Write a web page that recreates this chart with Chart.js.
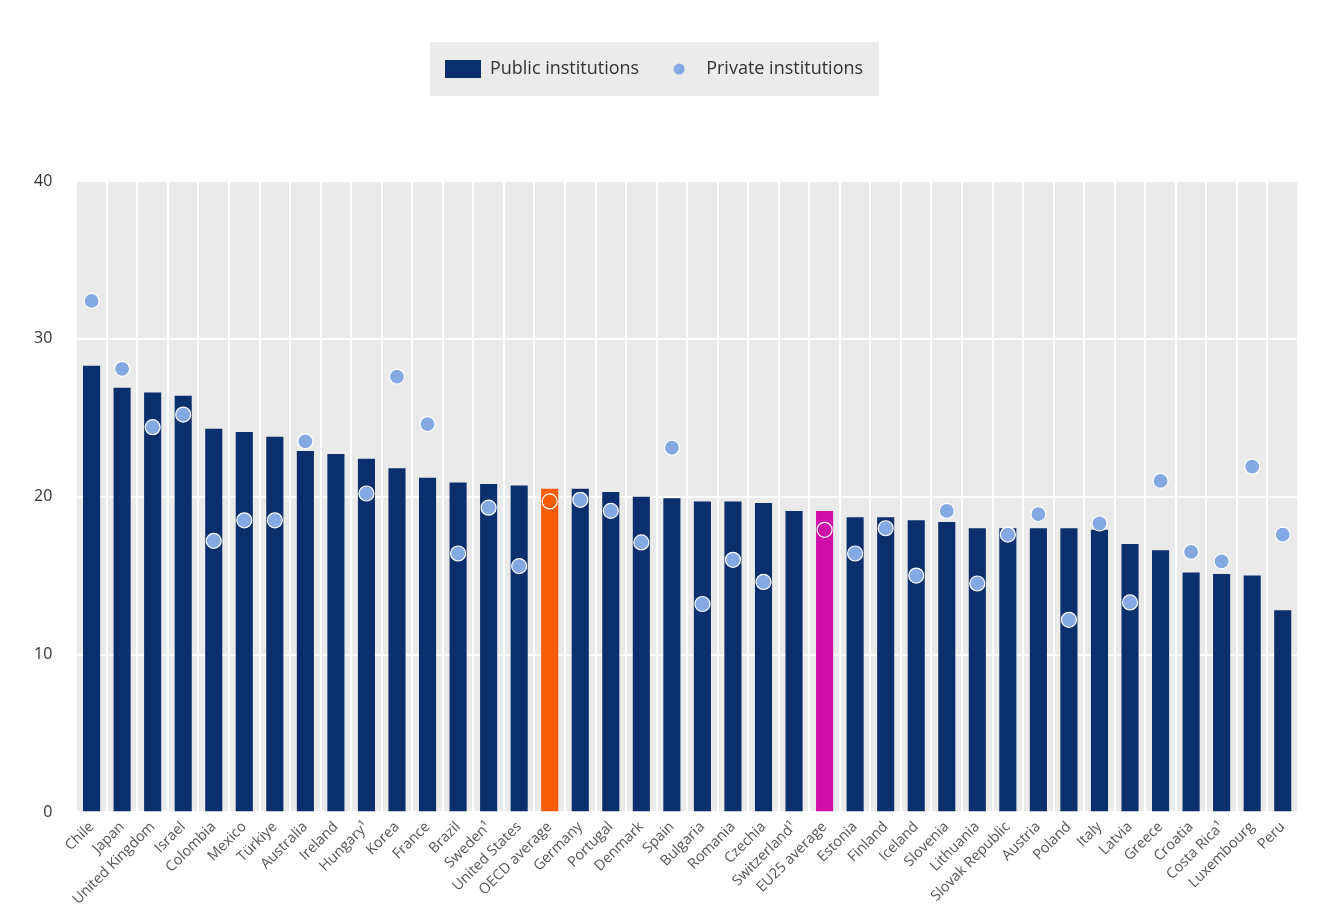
<!DOCTYPE html>
<html lang="en">
<head>
  <meta charset="UTF-8">
  <title>Public and private institutions</title>
  <style>
    html, body { margin: 0; padding: 0; background: #fff; }
    #wrap { width: 1320px; height: 923px; position: relative; }
  </style>
</head>
<body>
<div id="wrap"><canvas id="chart"></canvas></div>

<script src="https://cdn.jsdelivr.net/npm/chart.js"></script>
<script>
  // values
  const categories = [
    'Chile', 'Japan', 'United Kingdom', 'Israel', 'Colombia', 'Mexico', 'Türkiye', 'Australia',
    'Ireland', 'Hungary¹', 'Korea', 'France', 'Brazil', 'Sweden¹', 'United States', 'OECD average',
    'Germany', 'Portugal', 'Denmark', 'Spain', 'Bulgaria', 'Romania', 'Czechia', 'Switzerland¹',
    'EU25 average', 'Estonia', 'Finland', 'Iceland', 'Slovenia', 'Lithuania', 'Slovak Republic',
    'Austria', 'Poland', 'Italy', 'Latvia', 'Greece', 'Croatia', 'Costa Rica¹', 'Luxembourg', 'Peru'
  ];
  const publicValues = [
    28.3, 26.9, 26.6, 26.4, 24.3, 24.1, 23.8, 22.9,
    22.7, 22.4, 21.8, 21.2, 20.9, 20.8, 20.7, 20.5,
    20.5, 20.3, 20.0, 19.9, 19.7, 19.7, 19.6, 19.1,
    19.1, 18.7, 18.7, 18.5, 18.4, 18.0, 18.0,
    18.0, 18.0, 17.9, 17.0, 16.6, 15.2, 15.1, 15.0, 12.8
  ];
  const privateValues = [
    32.4, 28.1, 24.4, 25.2, 17.2, 18.5, 18.5, 23.5,
    null, 20.2, 27.6, 24.6, 16.4, 19.3, 15.6, 19.7,
    19.8, 19.1, 17.1, 23.1, 13.2, 16.0, 14.6, null,
    17.9, 16.4, 18.0, 15.0, 19.1, 14.5, 17.6,
    18.9, 12.2, 18.3, 13.3, 21.0, 16.5, 15.9, 21.9, 17.6
  ];
  const yTicks = [0, 10, 20, 30, 40];

  const navy = '#0b2f6d';
  const dotBlue = '#84a9e2';
  const highlight = { 'OECD average': '#fb5c08', 'EU25 average': '#d00fa8' };

  const barColors = categories.map(c => highlight[c] || navy);
  const dotColors = categories.map(c => highlight[c] || dotBlue);

  // little pictures for the legend
  function makeSwatch(w, h, draw) {
    const c = document.createElement('canvas');
    c.width = w; c.height = h;
    draw(c.getContext('2d'));
    return c;
  }
  const barSwatch = makeSwatch(36, 18, g => { g.fillStyle = navy; g.fillRect(0, 0, 36, 18); });
  const dotSwatch = makeSwatch(12, 12, g => {
    g.fillStyle = dotBlue; g.beginPath(); g.arc(6, 6, 5.5, 0, Math.PI * 2); g.fill();
  });

  // grey plot background + grey legend box
  const backdrop = {
    id: 'backdrop',
    beforeInit(chart) {
      const fit = chart.legend.fit;
      chart.legend.fit = function () { fit.call(this); this.height += 93; };
    },
    beforeDraw(chart) {
      const { ctx, chartArea: a, legend } = chart;
      ctx.save();
      ctx.fillStyle = '#eaeaea';
      ctx.fillRect(a.left, a.top, a.right - a.left, a.bottom - a.top);
      const hb = legend.legendHitBoxes;
      if (hb && hb.length) {
        const l = Math.min(...hb.map(h => h.left)) - 15;
        const r = Math.max(...hb.map(h => h.left + h.width)) + 16;
        const t = hb[0].top - 18;
        const b = hb[0].top + hb[0].height + 18;
        ctx.fillStyle = '#ebebeb';
        ctx.fillRect(l, t, r - l, b - t);
      }
      ctx.restore();
    }
  };

  const font = "'Open Sans', 'Noto Sans', sans-serif";

  new Chart(document.getElementById('chart'), {
    type: 'bar',
    data: {
      labels: categories,
      datasets: [
        {
          type: 'line',
          label: 'Private institutions',
          data: privateValues,
          showLine: false,
          pointRadius: 7.5,
          pointHoverRadius: 7.5,
          pointBackgroundColor: dotColors,
          pointBorderColor: '#ffffff',
          pointBorderWidth: 1.2,
          order: 1
        },
        {
          label: 'Public institutions',
          data: publicValues,
          backgroundColor: barColors,
          barPercentage: 0.56,
          categoryPercentage: 1,
          order: 2
        }
      ]
    },
    options: {
      responsive: true,
      maintainAspectRatio: false,
      animation: false,
      layout: { padding: { top: 38, left: 10, right: 22, bottom: 9 } },
      plugins: {
        tooltip: { enabled: false },
        legend: {
          position: 'top',
          labels: {
            font: { family: font, size: 18 },
            color: '#333',
            padding: 22,
            usePointStyle: true,
            pointStyleWidth: 36,
            generateLabels(chart) {
              return [
                { text: 'Public institutions', pointStyle: barSwatch, datasetIndex: 1, fontColor: '#333', lineWidth: 0, strokeStyle: 'transparent', fillStyle: navy },
                { text: 'Private institutions', pointStyle: dotSwatch, datasetIndex: 0, fontColor: '#333', lineWidth: 0, strokeStyle: 'transparent', fillStyle: dotBlue }
              ];
            }
          }
        }
      },
      scales: {
        x: {
          offset: true,
          grid: { color: '#ffffff', lineWidth: 2, offset: true, drawTicks: false },
          border: { display: false },
          ticks: {
            font: { family: font, size: 14.5 },
            color: '#555',
            minRotation: 45,
            maxRotation: 45,
            autoSkip: false,
            padding: 6
          }
        },
        y: {
          min: 0,
          max: 40,
          afterBuildTicks(axis) { axis.ticks = yTicks.map(v => ({ value: v })); },
          grid: { color: '#ffffff', lineWidth: 2, drawTicks: false },
          border: { display: false },
          ticks: {
            font: { family: font, size: 16 },
            color: '#333',
            padding: 24
          }
        }
      }
    },
    plugins: [backdrop]
  });
</script>
</body>
</html>
